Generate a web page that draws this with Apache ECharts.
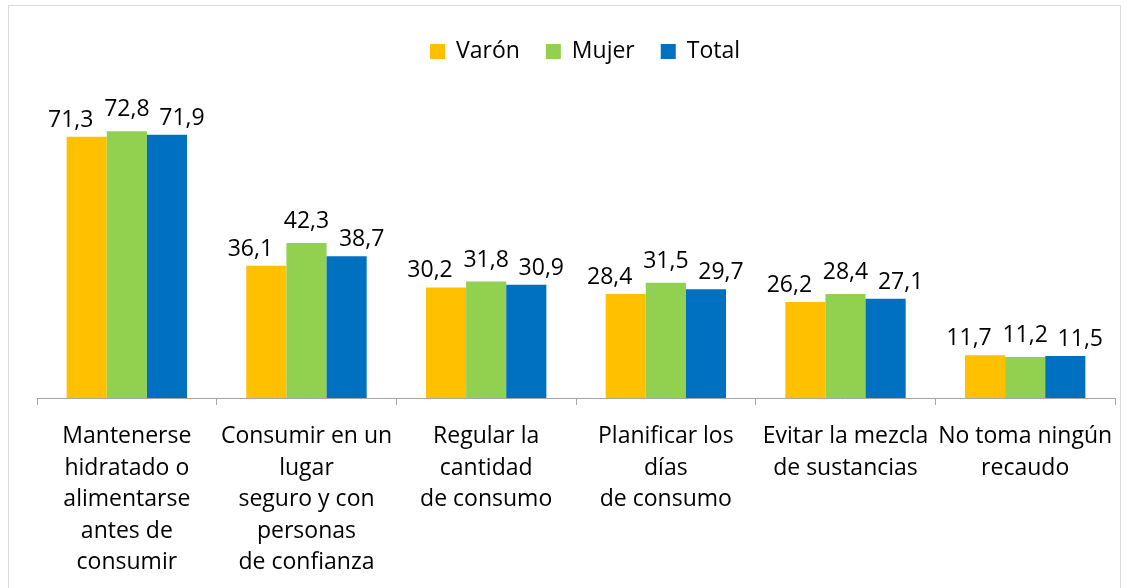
<!DOCTYPE html>
<html>
<head>
<meta charset="utf-8">
<script src="https://cdn.jsdelivr.net/npm/echarts@6/dist/echarts.min.js"></script>
<style>
  html, body { margin: 0; padding: 0; background: #fff; }
  #frame { position: absolute; left: 8px; top: 5px; width: 1113px; height: 600px; border: 1px solid #d9d9d9; box-sizing: border-box; }
  #chart { position: absolute; left: 0; top: 0; width: 1130px; height: 588px; }
</style>
</head>
<body>
<div id="frame"></div>
<div id="chart"></div>
<script>
var categories = [
	'Mantenerse\nhidratado o\nalimentarse\nantes de\nconsumir',
	'Consumir en un\nlugar\nseguro y con\npersonas\nde confianza',
	'Regular la\ncantidad\nde consumo',
	'Planificar los\ndías\nde consumo',
	'Evitar la mezcla\nde sustancias',
	'No toma ningún\nrecaudo'
];
var varon = [71.3, 36.1, 30.2, 28.4, 26.2, 11.7];
var mujer = [72.8, 42.3, 31.8, 31.5, 28.4, 11.2];
var total = [71.9, 38.7, 30.9, 29.7, 27.1, 11.5];

var font = '"Open Sans", "Liberation Sans", sans-serif';

// labels are nudged sideways like the original so they don't collide
function makeSeries(name, data, color, dx, dist) {
	return {
		name: name,
		type: 'bar',
		data: data,
		barGap: '0%',
		barCategoryGap: '33%',
		itemStyle: { color: color },
		label: {
			show: true,
			position: 'top',
			distance: dist,
			offset: [dx, 0],
			color: '#000',
			fontFamily: font,
			fontSize: 23,
			formatter: function (p) { return String(p.value).replace('.', ','); }
		}
	};
}

var myChart = echarts.init(document.getElementById('chart'));
myChart.setOption({
	animation: false,
	legend: {
		top: 35,
		left: 425,
		itemWidth: 15,
		itemHeight: 15,
		itemGap: 26,
		icon: 'rect',
		textStyle: { fontFamily: font, fontSize: 23, color: '#000', padding: [0, 0, 0, 6] },
		data: ['Varón', 'Mujer', 'Total']
	},
	grid: { left: 37, right: 15, top: 105, bottom: 190, containLabel: false },
	xAxis: {
		type: 'category',
		data: categories,
		axisLine: { lineStyle: { color: '#a6a6a6' } },
		axisTick: { show: true, length: 7, lineStyle: { color: '#a6a6a6' } },
		axisLabel: {
			interval: 0,
			margin: 23,
			color: '#000',
			fontFamily: font,
			fontSize: 23,
			lineHeight: 31.5
		}
	},
	yAxis: {
		type: 'value',
		min: 0,
		max: 80,
		show: false,
		splitLine: { show: false }
	},
	series: [
		makeSeries('Varón', varon, '#FFC000', -16, 5),
		makeSeries('Mujer', mujer, '#92D050', 0, 10),
		makeSeries('Total', total, '#0070C0', 15, 5)
	]
});
</script>
</body>
</html>
